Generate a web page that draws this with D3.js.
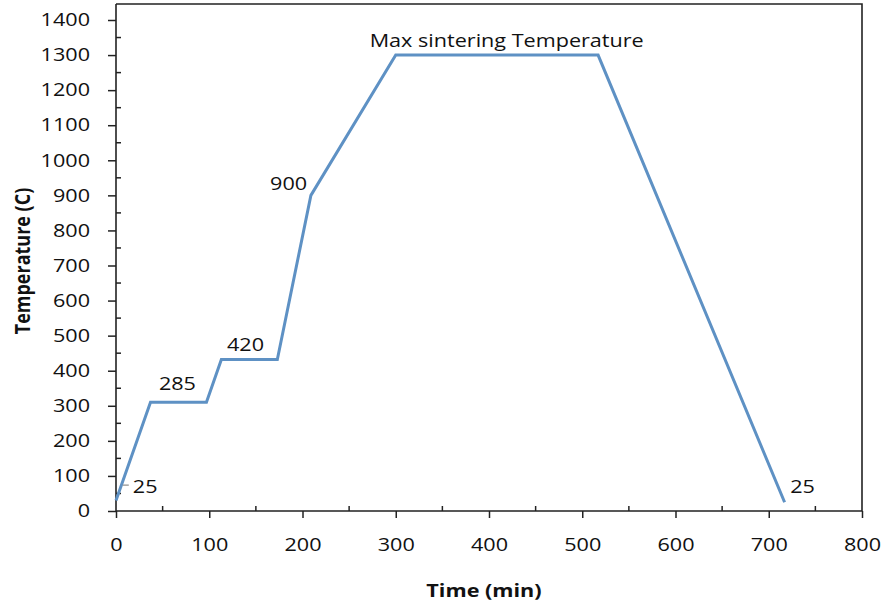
<!DOCTYPE html>
<html><head><meta charset="utf-8">
<script src="https://cdn.jsdelivr.net/npm/d3@7"></script>
<style>
body{margin:0;background:#fff}
text{font-family:"Open Sans",sans-serif;fill:#111}
</style>
</head><body><svg id="c" width="881" height="609"></svg>
<script>
// ---- data ----
const times = [0, 37, 97, 113, 173, 209, 300, 517, 717];
const temps = [30, 310, 310, 432, 432, 900, 1300, 1300, 25];
const xTickValues = [0, 100, 200, 300, 400, 500, 600, 700, 800];
const yTickValues = [0, 100, 200, 300, 400, 500, 600, 700, 800, 900, 1000, 1100, 1200, 1300, 1400];
const xMinorTicks = [50, 150, 250, 350, 450, 550, 650, 750];
const yMinorTicks = [50, 150, 250, 350, 450, 550, 650, 750, 850, 950, 1050, 1150, 1250, 1350];
const noteTexts = ["25", "285", "420", "900", "Max sintering Temperature", "25"];
const noteTimes = [18, 46, 119, 205, 419, 723];
const noteTemps = [51, 345, 456, 915, 1323, 51];
const noteAnchors = ["start", "start", "start", "end", "middle", "start"];
const xTitle = "Time (min)";
const yTitle = "Temperature (C)";

// ---- layout ----
const L = 116, R = 862, T = 4, B = 511;
const SX = 1.2; // horizontal stretch of text
const svg = d3.select("#c");
const x = d3.scaleLinear().domain([0, 800]).range([L, R]);
const y = d3.scaleLinear().domain([0, 1400]).range([B, 20]);
const axisColor = "#222";
const fmt = d3.format("d");

function stretch(sel) {
  sel.each(function () {
    const t = d3.select(this);
    const tx = +t.attr("x") || 0, ty = +t.attr("y") || 0;
    t.attr("transform", `translate(${tx},${ty}) scale(${SX},1)`).attr("x", 0).attr("y", 0);
  });
}

// y axis
const gy = svg.append("g").attr("transform", `translate(${L},0)`)
  .call(d3.axisLeft(y).tickValues(yTickValues).tickFormat(fmt).tickSize(8).tickPadding(18).tickSizeOuter(0));
gy.select(".domain").remove();
gy.selectAll("line").attr("stroke", axisColor).attr("stroke-width", 1.5);
gy.selectAll("text").attr("font-size", 18).attr("font-family", "Open Sans").attr("fill", "#111");
stretch(gy.selectAll("text"));
gy.selectAll(".minor").data(yMinorTicks).enter().append("line")
  .attr("x1", 0).attr("x2", 5).attr("y1", d => y(d)).attr("y2", d => y(d))
  .attr("stroke", axisColor).attr("stroke-width", 1.5);

// x axis
const gx = svg.append("g").attr("transform", `translate(0,${B})`)
  .call(d3.axisBottom(x).tickValues(xTickValues).tickFormat(fmt).tickSize(7).tickPadding(20).tickSizeOuter(0));
gx.select(".domain").remove();
gx.selectAll("line").attr("stroke", axisColor).attr("stroke-width", 1.5);
gx.selectAll("text").attr("font-size", 18).attr("font-family", "Open Sans").attr("fill", "#111");
stretch(gx.selectAll("text"));
gx.selectAll(".minor").data(xMinorTicks).enter().append("line")
  .attr("x1", d => x(d)).attr("x2", d => x(d)).attr("y1", 0).attr("y2", -5)
  .attr("stroke", axisColor).attr("stroke-width", 1.5);

// frame
svg.append("path")
  .attr("d", `M${L},${T}V${B}H${R}V${T}H${L}`)
  .attr("fill", "none").attr("stroke", axisColor).attr("stroke-width", 1.6);

// line
const pts = times.map((t, i) => [t, temps[i]]);
svg.append("path").datum(pts)
  .attr("d", d3.line().x(d => x(d[0])).y(d => y(d[1])))
  .attr("fill", "none").attr("stroke", "#5e91c4").attr("stroke-width", 3)
  .attr("stroke-linejoin", "miter");

// small leader dash near first label
svg.append("line")
  .attr("x1", x(noteTimes[0]) - 10).attr("x2", x(noteTimes[0]) - 4)
  .attr("y1", y(noteTemps[0]) - 8).attr("y2", y(noteTemps[0]) - 8)
  .attr("stroke", "#8a8a8a").attr("stroke-width", 1.2);

// annotations
noteTexts.forEach((txt, i) => {
  svg.append("text")
    .attr("transform", `translate(${x(noteTimes[i])},${y(noteTemps[i])}) scale(${SX},1)`)
    .attr("text-anchor", noteAnchors[i])
    .attr("font-size", 18)
    .text(txt);
});

// titles
svg.append("text")
  .attr("transform", `translate(484,597) scale(${SX},1)`)
  .attr("text-anchor", "middle").attr("font-size", 18).attr("font-weight", "bold")
  .text(xTitle);
svg.append("text")
  .attr("transform", `translate(30,261) rotate(-90) scale(1,${SX})`)
  .attr("text-anchor", "middle").attr("font-size", 18).attr("font-weight", "bold")
  .text(yTitle);
</script>
</body></html>
